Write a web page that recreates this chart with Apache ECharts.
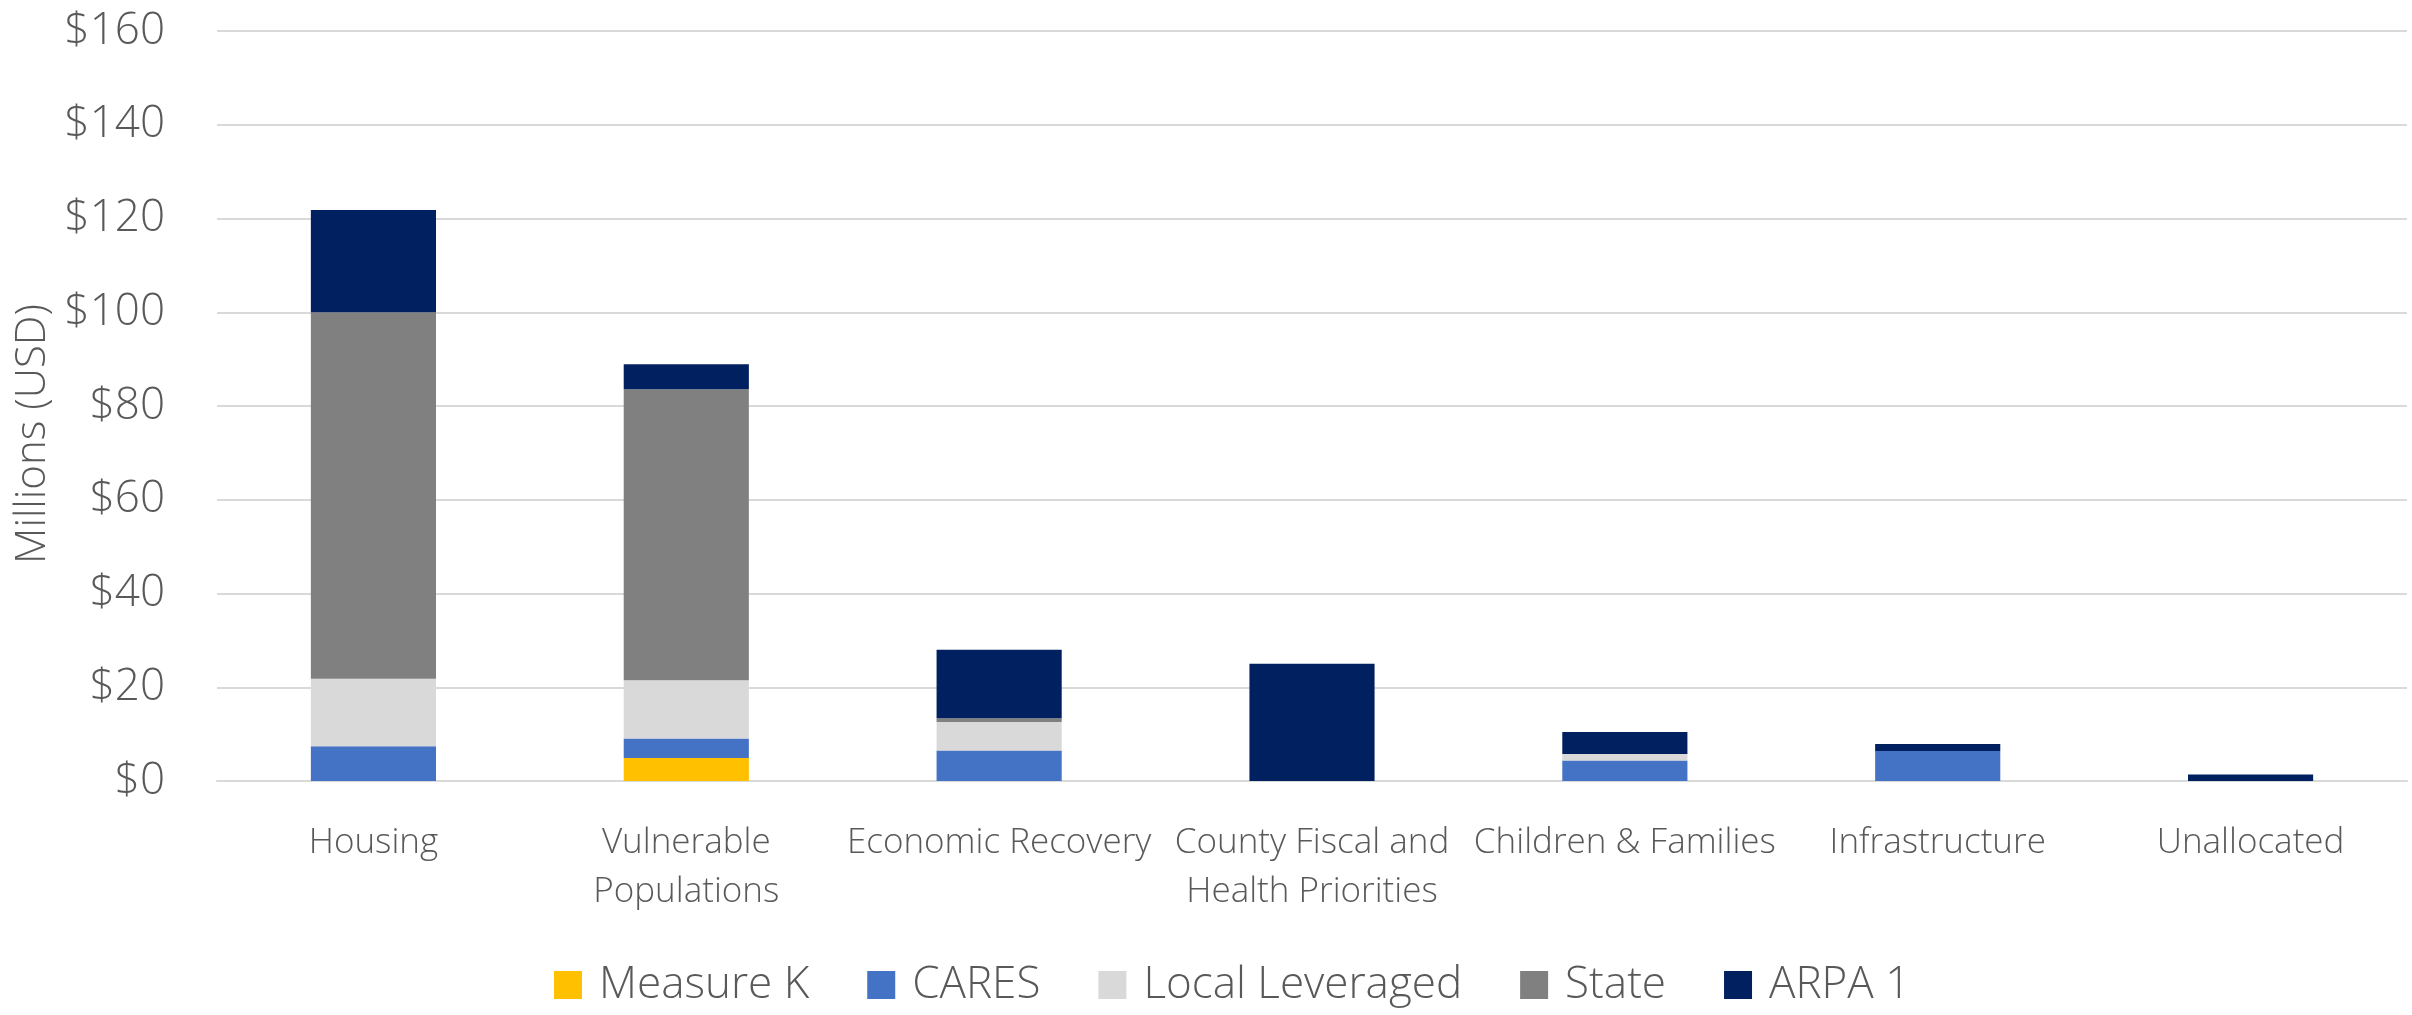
<!DOCTYPE html>
<html>
<head>
<meta charset="utf-8">
<script src="https://cdn.jsdelivr.net/npm/echarts@6/dist/echarts.min.js"></script>
<style>
  html, body { margin: 0; padding: 0; background: #fff; }
  #chart { width: 2412px; height: 1015px; }
</style>
</head>
<body>
<div id="chart"></div>
<script>
// categories and values (millions USD)
var categories = ['Housing', 'Vulnerable\nPopulations', 'Economic Recovery',
    'County Fiscal and\nHealth Priorities', 'Children & Families', 'Infrastructure', 'Unallocated'];
var measureK = [0, 4.9, 0, 0, 0, 0, 0];
var cares = [7.4, 4.15, 6.5, 0, 4.4, 6.4, 0];
var localLeveraged = [14.4, 12.45, 6.1, 0, 1.35, 0, 0];
var stateFunds = [78.2, 62.1, 0.8, 0, 0, 0, 0];
var arpa1 = [21.8, 5.3, 14.6, 25, 4.7, 1.5, 1.4];
var yTicks = [0, 20, 40, 60, 80, 100, 120, 140, 160];

var font = '"Open Sans", sans-serif';
var textColor = '#595959';

function bar(name, data, color) {
    return {
        name: name,
        type: 'bar',
        stack: 'total',
        barWidth: '40%',
        data: data,
        itemStyle: { color: color },
        emphasis: { disabled: true }
    };
}

var mychart = echarts.init(document.getElementById('chart'));
var option = {
    animation: false,
    grid: { left: 217, right: 5, top: 31, bottom: 234, containLabel: false, outerBoundsMode: 'none' },
    legend: {
        bottom: 3,
        left: 549,
        itemWidth: 28,
        itemHeight: 28,
        itemGap: 58,
        icon: 'rect',
        textStyle: { fontFamily: font, fontWeight: 300, fontSize: 44, color: textColor, padding: [0, 0, 0, 12] },
        data: ['Measure K', 'CARES', 'Local Leveraged', 'State', 'ARPA 1']
    },
    xAxis: {
        type: 'category',
        data: categories,
        axisLine: { show: true, lineStyle: { color: '#d9d9d9', width: 2 } },
        axisTick: { show: false },
        axisLabel: {
            interval: 0,
            margin: 38,
            fontFamily: font,
            fontWeight: 300,
            fontSize: 35,
            lineHeight: 49,
            color: textColor
        }
    },
    yAxis: {
        type: 'value',
        min: yTicks[0],
        max: yTicks[yTicks.length - 1],
        interval: 20,
        name: 'Millions (USD)',
        nameLocation: 'middle',
        nameGap: 152,
        nameTextStyle: { fontFamily: font, fontWeight: 300, fontSize: 42, color: textColor, padding: [0, 56, 0, 0] },
        axisLine: { show: false },
        axisTick: { show: false },
        splitLine: { lineStyle: { color: '#d9d9d9', width: 2 } },
        axisLabel: {
            margin: 52,
            fontFamily: font,
            fontWeight: 300,
            fontSize: 44,
            color: textColor,
            formatter: function (v) { return '$' + v; }
        }
    },
    series: [
        bar('Measure K', measureK, '#FFC000'),
        bar('CARES', cares, '#4472C4'),
        bar('Local Leveraged', localLeveraged, '#D9D9D9'),
        bar('State', stateFunds, '#808080'),
        bar('ARPA 1', arpa1, '#002060')
    ]
};
mychart.setOption(option);
</script>
</body>
</html>
